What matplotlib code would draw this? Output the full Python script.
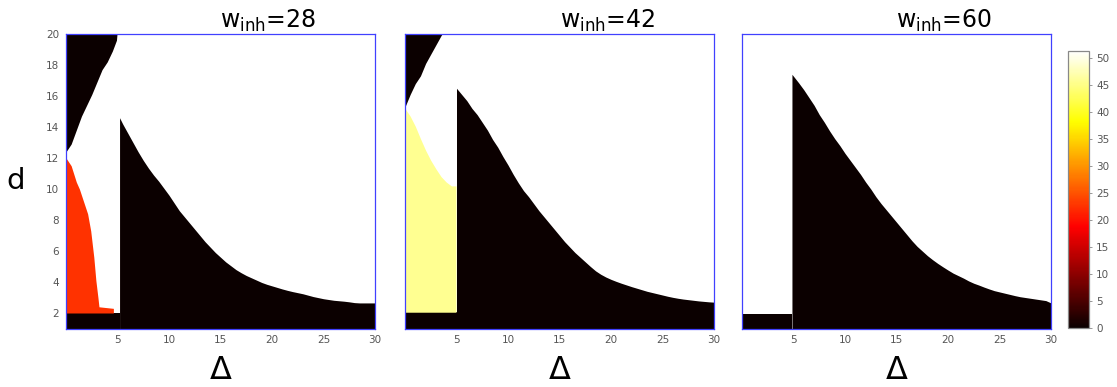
import numpy as np
import matplotlib
matplotlib.use("Agg")
import matplotlib.pyplot as plt
from matplotlib import cm, colors

# ---------------- data ----------------
w_inh = [28, 42, 60]
x_ticks = [5, 10, 15, 20, 25, 30]
y_ticks = [2, 4, 6, 8, 10, 12, 14, 16, 18, 20]
cbar_ticks = [0, 5, 10, 15, 20, 25, 30, 35, 40, 45, 50]
vmin, vmax = 0.0, 51.3
d_min, d_max = 1.0, 20.0

# bottom black band: top d, and Δ where the right black region starts
band_top = [2.0, 2.05, 1.95]
edge_delta = [5.2, 5.0, 4.85]
peak_d = [14.6, 16.5, 17.4]

# right black region: upper boundary d at Δ = 5.5, 6.0, ..., 30
curve_delta = [5.5, 6.0, 6.5, 7.0, 7.5, 8.0, 8.5, 9.0, 9.5, 10.0,
               10.5, 11.0, 11.5, 12.0, 12.5, 13.0, 13.5, 14.0, 14.5, 15.0,
               15.5, 16.0, 16.5, 17.0, 17.5, 18.0, 18.5, 19.0, 19.5, 20.0,
               20.5, 21.0, 21.5, 22.0, 22.5, 23.0, 23.5, 24.0, 24.5, 25.0,
               25.5, 26.0, 26.5, 27.0, 27.5, 28.0, 28.5, 29.0, 29.5, 30.0]
curve_28 = [14.2, 13.6, 13.0, 12.4, 11.85, 11.35, 10.9, 10.5, 10.05, 9.6,
            9.1, 8.6, 8.2, 7.8, 7.4, 7.0, 6.6, 6.25, 5.9, 5.6,
            5.3, 5.05, 4.8, 4.6, 4.42, 4.27, 4.12, 3.97, 3.85, 3.75,
            3.65, 3.55, 3.46, 3.38, 3.31, 3.24, 3.15, 3.06, 2.99, 2.92,
            2.87, 2.82, 2.79, 2.76, 2.72, 2.67, 2.65, 2.65, 2.65, 2.65]
curve_42 = [16.1, 15.7, 15.2, 14.8, 14.3, 13.8, 13.2, 12.7, 12.1, 11.55,
            10.95, 10.4, 9.9, 9.5, 9.05, 8.6, 8.2, 7.8, 7.4, 7.0,
            6.6, 6.25, 5.9, 5.6, 5.3, 5.0, 4.72, 4.5, 4.32, 4.17,
            4.04, 3.92, 3.81, 3.7, 3.6, 3.5, 3.4, 3.32, 3.24, 3.16,
            3.08, 3.01, 2.95, 2.9, 2.86, 2.82, 2.78, 2.75, 2.72, 2.7]
curve_60 = [16.85, 16.4, 15.9, 15.4, 14.8, 14.3, 13.75, 13.25, 12.8, 12.3,
            11.85, 11.4, 10.95, 10.45, 10.0, 9.5, 9.06, 8.66, 8.26, 7.86,
            7.46, 7.06, 6.66, 6.3, 6.0, 5.7, 5.44, 5.2, 4.98, 4.77,
            4.57, 4.41, 4.25, 4.07, 3.92, 3.8, 3.67, 3.55, 3.44, 3.36,
            3.28, 3.2, 3.12, 3.05, 3.0, 2.95, 2.9, 2.85, 2.8, 2.65]

# upper-left black wedge: lower boundary (Δ, d)
wedge_delta_28 = [0, 0.5, 1.0, 1.5, 2.0, 2.5, 3.0, 3.5, 4.0, 4.5, 4.9, 4.95]
wedge_d_28 = [12.4, 12.9, 13.8, 14.7, 15.4, 16.1, 16.9, 17.7, 18.2, 18.9, 19.6, 20.0]
wedge_delta_42 = [0, 0.5, 1.0, 1.5, 2.0, 2.5, 3.0, 3.5, 3.6]
wedge_d_42 = [15.3, 16.1, 16.8, 17.3, 18.1, 18.7, 19.3, 19.9, 20.0]

# coloured region: value and top boundary (Δ, d); bottom is the band
red_value = 22.6
red_delta = [0, 0.5, 1.0, 1.3, 1.8, 2.1, 2.4, 2.7, 2.9, 3.1, 3.2, 4.6]
red_top = [12.0, 11.5, 10.45, 10.0, 9.0, 8.4, 7.3, 5.6, 4.1, 3.0, 2.4, 2.3]
yellow_value = 45.5
yellow_delta = [0, 0.5, 1.0, 1.5, 2.0, 2.5, 3.0, 3.5, 4.0, 4.5, 4.95]
yellow_top = [15.2, 14.7, 14.05, 13.25, 12.5, 11.85, 11.3, 10.8, 10.45, 10.2, 10.2]

curves = [curve_28, curve_42, curve_60]
wedges = [(wedge_delta_28, wedge_d_28), (wedge_delta_42, wedge_d_42), None]
regions = [(red_delta, red_top, red_value), (yellow_delta, yellow_top, yellow_value), None]

# ---------------- figure ----------------
cmap = plt.get_cmap("hot")
norm = colors.Normalize(vmin=vmin, vmax=vmax)
black = cmap(norm(0.0))
white = cmap(norm(vmax))

W, H = 1117, 387
fig = plt.figure(figsize=(W / 100, H / 100), dpi=100)
lefts = [66, 405, 742]
ax_w, ax_b, ax_h = 309, 58.5, 294.5
spine_col = "#4040ff"
tick_col = "#555555"

for k, L in enumerate(lefts):
    ax = fig.add_axes([L / W, ax_b / H, ax_w / W, ax_h / H])
    ax.set_facecolor(white)
    # bottom band
    ax.fill_between([0, edge_delta[k]], d_min, band_top[k], color=black, lw=0)
    # right black region
    xs = [edge_delta[k]] + curve_delta
    ys = [peak_d[k]] + curves[k]
    ax.fill_between(xs, d_min, ys, color=black, lw=0)
    # coloured region
    if regions[k] is not None:
        rx, rt, rv = regions[k]
        ax.fill_between(rx, band_top[k], rt, color=cmap(norm(rv)), lw=0)
    # upper wedge
    if wedges[k] is not None:
        wx, wd = wedges[k]
        ax.fill_between(wx, wd, d_max, color=black, lw=0)

    ax.set_xlim(0, 30)
    ax.set_ylim(d_min, d_max)
    ax.set_xticks(x_ticks)
    ax.set_xticklabels([str(t) for t in x_ticks])
    ax.tick_params(length=0, labelsize=7.5, labelcolor=tick_col, pad=5)
    if k == 0:
        ax.set_yticks(y_ticks)
        ax.set_yticklabels([str(t) for t in y_ticks])
        ax.set_ylabel("d", fontsize=21, rotation=0, labelpad=22, va="center")
    else:
        ax.set_yticks([])
    for s in ax.spines.values():
        s.set_color(spine_col)
        s.set_linewidth(0.9)
        s.set_zorder(5)
    ax.set_title("w$_\\mathregular{inh}$=%d" % w_inh[k], fontsize=17, pad=4,
                 x=0.5, ha="left")
    ax.set_xlabel("Δ", fontsize=23, labelpad=7)

cax = fig.add_axes([1068 / W, 59 / H, 21 / W, 277 / H])
sm = cm.ScalarMappable(norm=norm, cmap=cmap)
cb = fig.colorbar(sm, cax=cax, ticks=cbar_ticks)
cb.outline.set_edgecolor("#888888")
cb.outline.set_linewidth(0.9)
cax.tick_params(length=2, width=0.6, color="#888888", labelsize=7.5,
                labelcolor=tick_col, pad=3)

fig.savefig("out.png", dpi=100)
